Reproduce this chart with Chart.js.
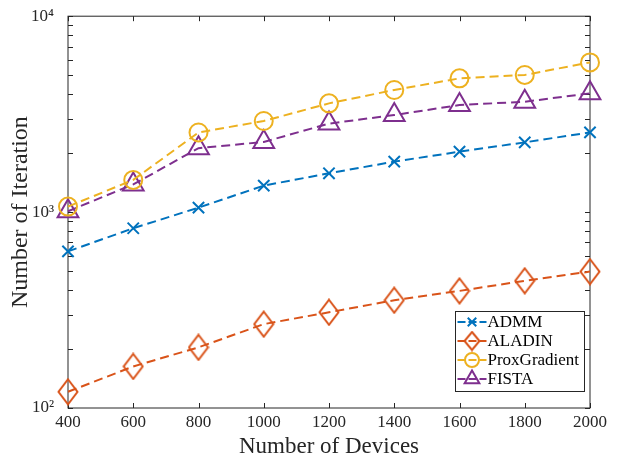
<!DOCTYPE html>
<html>
<head>
<meta charset="utf-8">
<script src="https://cdn.jsdelivr.net/npm/chart.js@4"></script>
<style>
html, body { margin: 0; padding: 0; background: #fff; }
</style>
</head>
<body>
<canvas id="grafico" width="624" height="461"></canvas>
<script>
const dispositivos = [400, 600, 800, 1000, 1200, 1400, 1600, 1800, 2000];
const admm = [630, 827, 1054, 1365, 1578, 1810, 2035, 2270, 2553];
const aladin = [121, 163, 204, 268, 308, 355, 396, 446, 497];
const proxGradient = [1067, 1460, 2550, 2918, 3590, 4200, 4816, 5012, 5810];
const fista = [1010, 1385, 2120, 2280, 2830, 3130, 3520, 3660, 4040];
const ticksY = [100, 200, 300, 400, 500, 600, 700, 800, 900,
    1000, 2000, 3000, 4000, 5000, 6000, 7000, 8000, 9000, 10000];
const rotulosY = { 100: '10²', 1000: '10³', 10000: '10⁴' };

const cores = {
    admm: '#0072BD',
    aladin: '#D95319',
    prox: '#EDB120',
    fista: '#7E2F8E'
};

// diamante mais alto que largo, como o marcador do MATLAB
function criarDiamante(w, h, cor) {
    const c = document.createElement('canvas');
    c.width = w;
    c.height = h;
    const g = c.getContext('2d');
    g.strokeStyle = cor;
    g.lineWidth = 2;
    g.beginPath();
    g.moveTo(w / 2, 1.5);
    g.lineTo(w - 1.5, h / 2);
    g.lineTo(w / 2, h - 1.5);
    g.lineTo(1.5, h / 2);
    g.closePath();
    g.stroke();
    return c;
}

const diamante = criarDiamante(22, 28, cores.aladin);
const diamantePequeno = criarDiamante(18, 21, cores.aladin);

function pontos(valores) {
    return dispositivos.map((x, i) => ({ x: x, y: valores[i] }));
}

function serie(label, valores, cor, estilo, raio, estiloLegenda, raioLegenda) {
    return {
        label: label,
        data: pontos(valores),
        borderColor: cor,
        backgroundColor: 'rgba(0,0,0,0)',
        borderWidth: 2,
        borderDash: [9, 5],
        pointStyle: estilo,
        pointRadius: raio,
        pointBorderWidth: 2,
        pointBorderColor: cor,
        pointBackgroundColor: 'rgba(0,0,0,0)',
        tension: 0,
        clip: false,
        estiloLegenda: estiloLegenda,
        raioLegenda: raioLegenda
    };
}

const moldura = {
    id: 'moldura',
    beforeDatasetsDraw(chart) {
        const { ctx, chartArea: a, scales: { x, y } } = chart;
        ctx.save();
        ctx.strokeStyle = '#262626';
        ctx.lineWidth = 1;
        ctx.beginPath();
        x.ticks.forEach(t => {
            const px = Math.round(x.getPixelForValue(t.value)) + 0.5;
            ctx.moveTo(px, a.bottom);
            ctx.lineTo(px, a.bottom - 5);
            ctx.moveTo(px, a.top);
            ctx.lineTo(px, a.top + 5);
        });
        y.ticks.forEach(t => {
            const py = Math.round(y.getPixelForValue(t.value)) + 0.5;
            ctx.moveTo(a.left, py);
            ctx.lineTo(a.left + 5, py);
            ctx.moveTo(a.right, py);
            ctx.lineTo(a.right - 5, py);
        });
        ctx.stroke();
        ctx.strokeRect(a.left, a.top, a.right - a.left, a.bottom - a.top);
        ctx.restore();
    }
};

const legenda = {
    id: 'legenda',
    afterDraw(chart) {
        const ctx = chart.ctx;
        const x0 = 455.5, y0 = 311.5, w = 129, h = 80;
        ctx.save();
        ctx.fillStyle = '#fff';
        ctx.fillRect(x0, y0, w, h);
        ctx.strokeStyle = '#262626';
        ctx.lineWidth = 1;
        ctx.strokeRect(x0, y0, w, h);
        chart.data.datasets.forEach((ds, i) => {
            const cy = y0 + 10.5 + i * 19;
            ctx.strokeStyle = ds.borderColor;
            ctx.lineWidth = 2;
            ctx.setLineDash([8, 3]);
            ctx.beginPath();
            ctx.moveTo(x0 + 2, cy);
            ctx.lineTo(x0 + 31, cy);
            ctx.stroke();
            ctx.setLineDash([]);
            ctx.fillStyle = 'rgba(0,0,0,0)';
            Chart.helpers.drawPoint(ctx, {
                pointStyle: ds.estiloLegenda,
                radius: ds.raioLegenda,
                borderWidth: 2,
                rotation: 0
            }, x0 + 16.5, cy);
            ctx.fillStyle = '#000';
            ctx.font = '17px "Liberation Serif"';
            ctx.textBaseline = 'middle';
            ctx.textAlign = 'left';
            ctx.fillText(ds.label, x0 + 32, cy + 1);
        });
        ctx.restore();
    }
};

Chart.defaults.font.family = '"Liberation Serif", serif';
Chart.defaults.color = '#262626';

new Chart(document.getElementById('grafico'), {
    type: 'line',
    data: {
        datasets: [
            serie('ADMM', admm, cores.admm, 'crossRot', 8, 'crossRot', 6),
            serie('ALADIN', aladin, cores.aladin, diamante, 12, diamantePequeno, 9),
            serie('ProxGradient', proxGradient, cores.prox, 'circle', 9, 'circle', 7),
            serie('FISTA', fista, cores.fista, 'triangle', 12, 'triangle', 8.5)
        ]
    },
    options: {
        responsive: false,
        animation: false,
        devicePixelRatio: 1,
        layout: { padding: { top: 15, right: 34, bottom: 0, left: 0 } },
        plugins: {
            legend: { display: false },
            tooltip: { enabled: false }
        },
        scales: {
            x: {
                type: 'linear',
                min: 400,
                max: 2000,
                grid: { display: false },
                border: { display: false },
                ticks: {
                    stepSize: 200,
                    autoSkip: false,
                    padding: -4,
                    maxRotation: 0,
                    font: { size: 17 },
                    callback: v => String(v)
                },
                title: { display: true, text: 'Number of Devices', font: { size: 23 }, padding: { top: 0, bottom: 0 } },
                afterFit: s => { s.height = 53; }
            },
            y: {
                type: 'logarithmic',
                min: 100,
                max: 10000,
                grid: { display: false },
                border: { display: false },
                afterBuildTicks: s => { s.ticks = ticksY.map(v => ({ value: v })); },
                ticks: {
                    autoSkip: false,
                    padding: 6,
                    font: { size: 17 },
                    callback: v => rotulosY[v] || ''
                },
                title: { display: true, text: 'Number of Iteration', font: { size: 24 }, padding: { top: 6, bottom: 0 } },
                afterFit: s => { s.width = 68; }
            }
        }
    },
    plugins: [moldura, legenda]
});
</script>
</body>
</html>
